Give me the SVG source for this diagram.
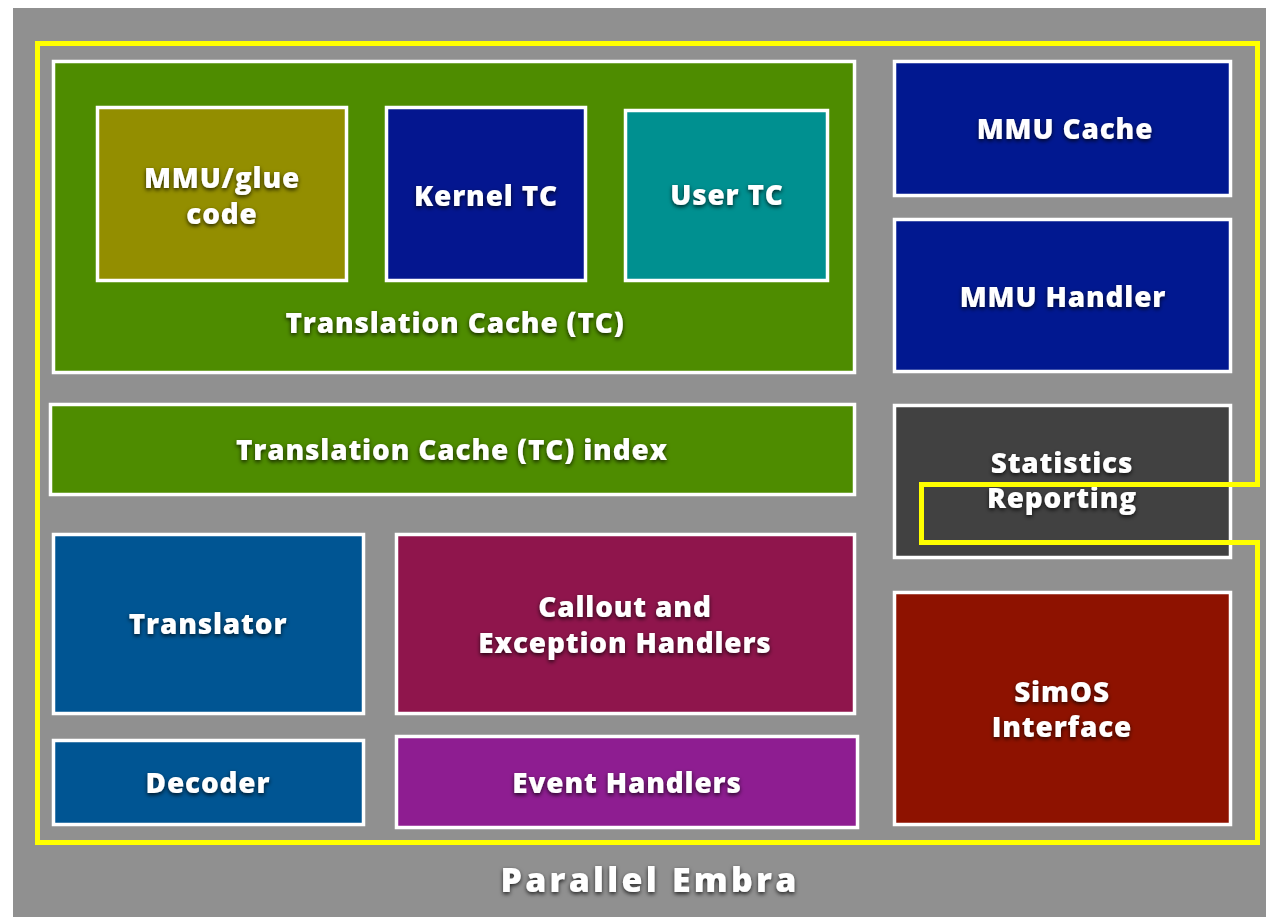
<svg xmlns="http://www.w3.org/2000/svg" width="1266" height="917" viewBox="0 0 1266 917">
<defs>
<filter id="sh" x="-20%" y="-40%" width="140%" height="180%">
<feDropShadow dx="0" dy="2" stdDeviation="2" flood-color="#000" flood-opacity="0.75"/>
</filter>
<style>
.box{stroke:#fff;stroke-width:3.5}
.t{font-family:"Open Sans","Lato","Liberation Sans",sans-serif;font-weight:800;font-size:28px;letter-spacing:0.8px;fill:#fff;text-anchor:middle;filter:url(#sh)}
.title{font-size:34px;letter-spacing:3.2px}
</style>
</defs>
<rect x="0" y="0" width="1266" height="917" fill="#fff"/>
<rect x="13" y="8" width="1253" height="909" fill="#909090"/>
<g id="tc">
<rect class="box" x="53.5" y="61.5" width="801" height="311" fill="#4e8c00"/>
<text class="t" x="455" y="333">Translation Cache (TC)</text>
</g>
<g id="mmu-glue">
<rect class="box" x="97.5" y="107.5" width="249" height="173" fill="#938e00"/>
<text class="t" x="222" y="188">MMU/glue</text>
<text class="t" x="222" y="224">code</text>
</g>
<g id="kernel-tc">
<rect class="box" x="386.5" y="107.5" width="199" height="173" fill="#04168f"/>
<text class="t" x="486" y="206">Kernel TC</text>
</g>
<g id="user-tc">
<rect class="box" x="625.5" y="110.5" width="202" height="170" fill="#009090"/>
<text class="t" x="727" y="205">User TC</text>
</g>
<g id="mmu-cache">
<rect class="box" x="894.5" y="61.5" width="336" height="134" fill="#011890"/>
<text class="t" x="1065" y="139">MMU Cache</text>
</g>
<g id="mmu-handler">
<rect class="box" x="894.5" y="219.5" width="336" height="152" fill="#011890"/>
<text class="t" x="1063" y="307">MMU Handler</text>
</g>
<g id="tc-index">
<rect class="box" x="50.5" y="404.5" width="804" height="90" fill="#4e8c00"/>
<text class="t" x="452" y="460">Translation Cache (TC) index</text>
</g>
<g id="statistics">
<rect class="box" x="894.5" y="405.5" width="336" height="152" fill="#414141"/>
<text class="t" x="1062" y="473">Statistics</text>
<text class="t" x="1062" y="508">Reporting</text>
</g>
<g id="translator">
<rect class="box" x="53.5" y="534.5" width="310" height="179" fill="#005593"/>
<text class="t" x="208" y="634">Translator</text>
</g>
<g id="callout">
<rect class="box" x="396.5" y="534.5" width="458" height="179" fill="#8f154c"/>
<text class="t" x="625" y="617">Callout and</text>
<text class="t" x="625" y="653">Exception Handlers</text>
</g>
<g id="simos">
<rect class="box" x="894.5" y="592.5" width="336" height="232" fill="#8e1200"/>
<text class="t" x="1062" y="702">SimOS</text>
<text class="t" x="1062" y="737">Interface</text>
</g>
<g id="decoder">
<rect class="box" x="53.5" y="740.5" width="310" height="84" fill="#005593"/>
<text class="t" x="208" y="793">Decoder</text>
</g>
<g id="event-handlers">
<rect class="box" x="396.5" y="736.5" width="461" height="91" fill="#8e1d91"/>
<text class="t" x="627" y="793">Event Handlers</text>
</g>
<g id="parallel-embra">
<path d="M37.5,43.5 H1257.5 V484.5 H921.5 V542.5 H1257.5 V842.5 H37.5 Z" fill="none" stroke="#ffff00" stroke-width="5"/>
<text class="t title" x="650" y="892">Parallel Embra</text>
</g>
<g id="connectors"/>
</svg>
